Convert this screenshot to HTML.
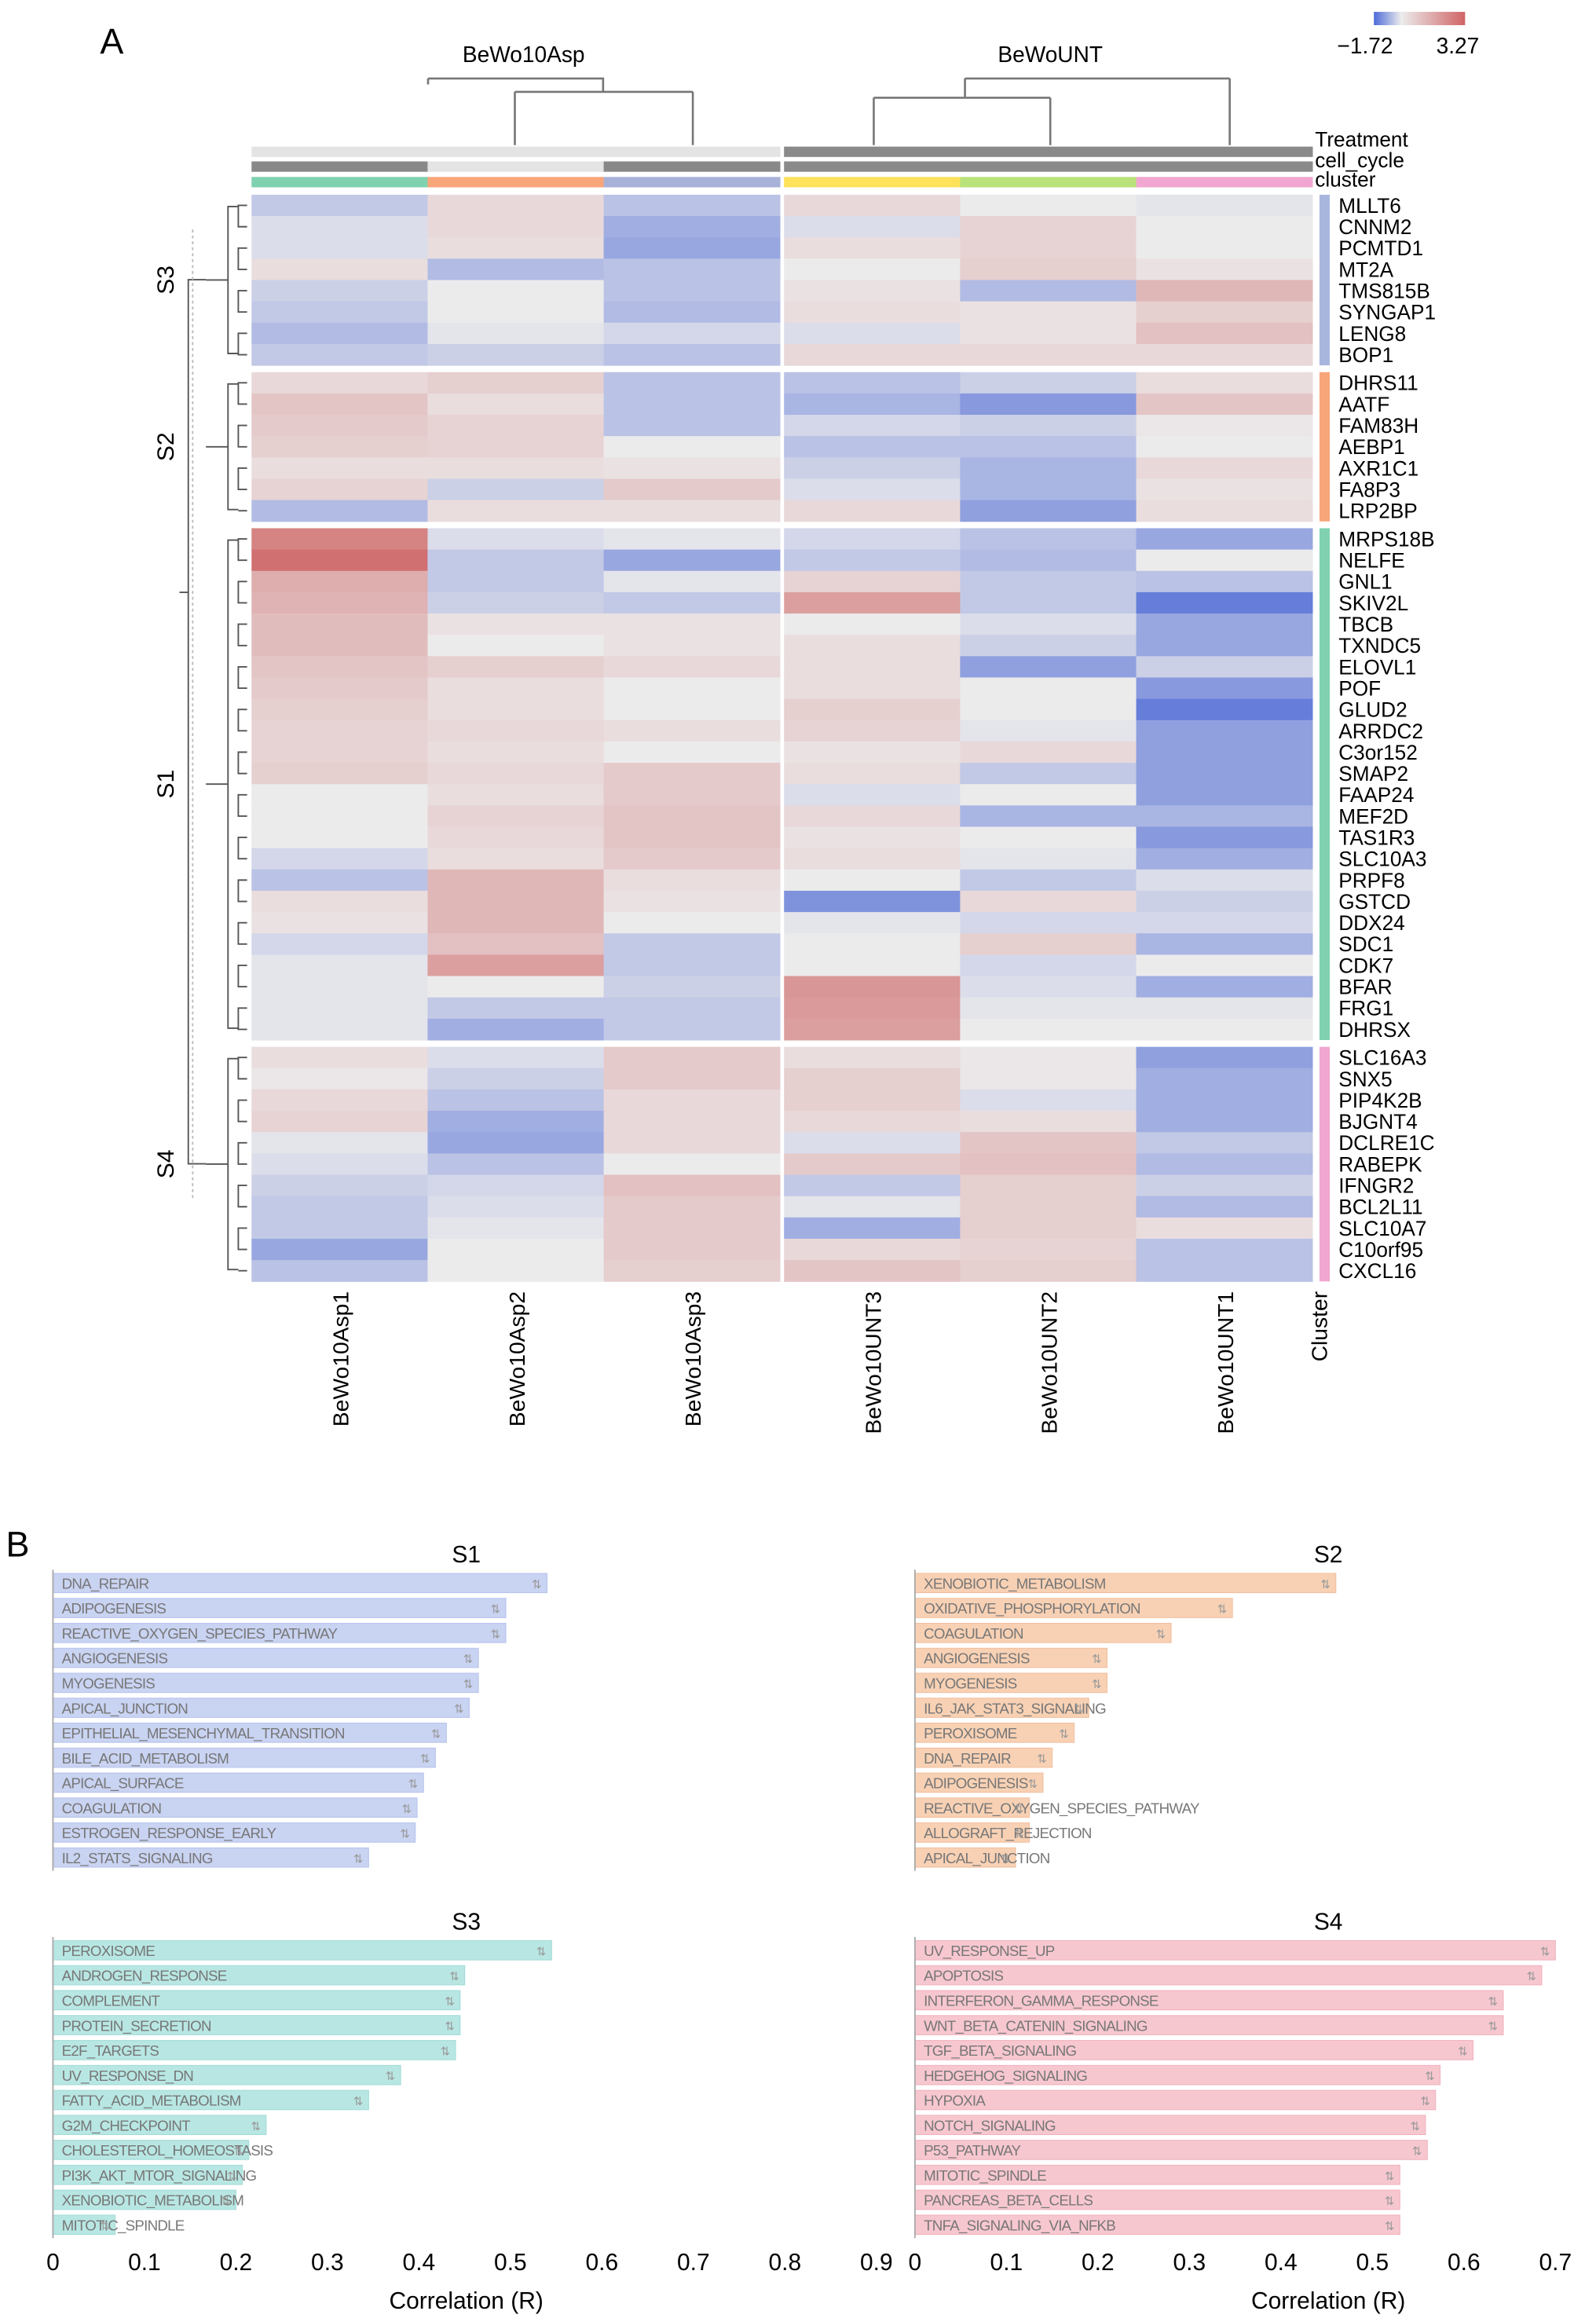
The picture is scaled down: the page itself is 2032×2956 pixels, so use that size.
<!DOCTYPE html>
<html><head><meta charset="utf-8">
<style>
html,body{margin:0;padding:0;background:#fff;}
svg{display:block;font-family:"Liberation Sans",sans-serif;}
</style></head>
<body>
<svg id="fig" xmlns="http://www.w3.org/2000/svg" width="2032" height="2956" viewBox="0 0 1085 1568" preserveAspectRatio="none">
<rect width="1085" height="1568" fill="#fff"/>
<text x="68" y="36" font-size="24">A</text>
<text x="4" y="1051" font-size="24">B</text>
<g id="heat"></g>
<g id="bars"></g>
</svg>
<script>
const NS="http://www.w3.org/2000/svg";
function mk(tag,attrs,parent,txt){const e=document.createElementNS(NS,tag);for(const k in attrs)e.setAttribute(k,attrs[k]);if(txt!==undefined)e.textContent=txt;parent.appendChild(e);return e;}

// ---------- Heatmap data ----------
const samples=["BeWo10Asp1","BeWo10Asp2","BeWo10Asp3","BeWo10UNT3","BeWo10UNT2","BeWo10UNT1"];
const clusterNames=["S3","S2","S1","S4"];
const clusterSizes=[8,7,24,11];
const genes=["MLLT6","CNNM2","PCMTD1","MT2A","TMS815B","SYNGAP1","LENG8","BOP1",
"DHRS11","AATF","FAM83H","AEBP1","AXR1C1","FA8P3","LRP2BP",
"MRPS18B","NELFE","GNL1","SKIV2L","TBCB","TXNDC5","ELOVL1","POF","GLUD2","ARRDC2","C3or152","SMAP2","FAAP24","MEF2D","TAS1R3","SLC10A3","PRPF8","GSTCD","DDX24","SDC1","CDK7","BFAR","FRG1","DHRSX",
"SLC16A3","SNX5","PIP4K2B","BJGNT4","DCLRE1C","RABEPK","IFNGR2","BCL2L11","SLC10A7","C10orf95","CXCL16"];
const values=[
[-0.5,0.4,-0.6,0.4,0,-0.1],[-0.2,0.4,-0.9,-0.2,0.5,0],[-0.2,0.3,-1.0,0.3,0.5,0],[0.3,-0.7,-0.6,0,0.6,0.2],
[-0.4,0,-0.6,0.2,-0.7,1.1],[-0.5,0,-0.7,0.3,0.2,0.6],[-0.7,-0.1,-0.3,-0.2,0.2,0.9],[-0.5,-0.4,-0.6,0.4,0.4,0.4],
[0.4,0.6,-0.6,-0.6,-0.4,0.3],[0.8,0.3,-0.6,-0.8,-1.2,0.8],[0.7,0.5,-0.6,-0.3,-0.4,0.1],[0.6,0.5,0,-0.6,-0.6,0],
[0.3,0.3,0.2,-0.4,-0.8,0.4],[0.5,-0.4,0.7,-0.2,-0.8,0.2],[-0.7,0.3,0.3,0.4,-1.1,0.3],
[2.2,-0.2,-0.1,-0.3,-0.6,-1.0],[2.6,-0.5,-1.0,-0.5,-0.7,0],[1.3,-0.5,-0.1,0.5,-0.5,-0.6],[1.2,-0.4,-0.5,1.6,-0.5,-1.6],
[1.0,0.2,0.2,0,-0.2,-1.0],[1.0,0,0.2,0.3,-0.4,-1.0],[0.8,0.6,0.4,0.3,-1.1,-0.4],[0.7,0.3,0,0.3,0,-1.2],
[0.6,0.3,0,0.6,0,-1.6],[0.5,0.4,0.3,0.5,-0.1,-1.1],[0.5,0.3,0,0.2,0.4,-1.1],[0.6,0.4,0.7,0.3,-0.5,-1.1],
[0,0.3,0.7,-0.2,0,-1.1],[0,0.5,0.8,0.4,-0.8,-0.8],[0,0.4,0.8,0.2,0,-1.2],[-0.3,0.3,0.7,0.3,-0.1,-0.9],
[-0.6,1.1,0.3,0,-0.5,-0.2],[0.3,1.1,0.2,-1.3,0.4,-0.4],[0.2,1.1,0,-0.1,-0.3,-0.3],[-0.3,0.9,-0.5,0,0.6,-0.8],
[-0.1,1.6,-0.5,0,-0.3,0],[-0.1,0,-0.4,1.8,-0.2,-0.9],[-0.1,-0.5,-0.5,1.7,-0.1,-0.1],[-0.1,-0.9,-0.5,1.6,0,0],
[0.3,-0.2,0.7,0.3,0.1,-1.1],[0.1,-0.4,0.7,0.6,0.1,-0.9],[0.4,-0.6,0.4,0.6,-0.2,-0.9],[0.5,-0.9,0.4,0.4,0.3,-0.9],
[-0.1,-1.0,0.4,-0.2,0.8,-0.5],[-0.2,-0.6,0,0.7,0.9,-0.7],[-0.4,-0.3,0.9,-0.5,0.6,-0.4],[-0.5,-0.2,0.7,-0.1,0.6,-0.7],
[-0.5,-0.1,0.7,-0.9,0.6,0.3],[-1.0,0,0.7,0.4,0.5,-0.6],[-0.6,0,0.6,0.8,0.6,-0.6]];
const vmin=-1.72, vmax=3.27;

// ---------- Bar chart data ----------
const s1Labels=["DNA_REPAIR","ADIPOGENESIS","REACTIVE_OXYGEN_SPECIES_PATHWAY","ANGIOGENESIS","MYOGENESIS","APICAL_JUNCTION","EPITHELIAL_MESENCHYMAL_TRANSITION","BILE_ACID_METABOLISM","APICAL_SURFACE","COAGULATION","ESTROGEN_RESPONSE_EARLY","IL2_STATS_SIGNALING"];
const s1Values=[0.54,0.495,0.495,0.465,0.465,0.455,0.43,0.418,0.405,0.398,0.396,0.345];
const s2Labels=["XENOBIOTIC_METABOLISM","OXIDATIVE_PHOSPHORYLATION","COAGULATION","ANGIOGENESIS","MYOGENESIS","IL6_JAK_STAT3_SIGNALING","PEROXISOME","DNA_REPAIR","ADIPOGENESIS","REACTIVE_OXYGEN_SPECIES_PATHWAY","ALLOGRAFT_REJECTION","APICAL_JUNCTION"];
const s2Values=[0.46,0.347,0.28,0.21,0.21,0.19,0.174,0.15,0.14,0.125,0.125,0.11];
const s3Labels=["PEROXISOME","ANDROGEN_RESPONSE","COMPLEMENT","PROTEIN_SECRETION","E2F_TARGETS","UV_RESPONSE_DN","FATTY_ACID_METABOLISM","G2M_CHECKPOINT","CHOLESTEROL_HOMEOSTASIS","PI3K_AKT_MTOR_SIGNALING","XENOBIOTIC_METABOLISM","MITOTIC_SPINDLE"];
const s3Values=[0.545,0.45,0.445,0.445,0.44,0.38,0.345,0.233,0.214,0.207,0.2,0.068];
const s4Labels=["UV_RESPONSE_UP","APOPTOSIS","INTERFERON_GAMMA_RESPONSE","WNT_BETA_CATENIN_SIGNALING","TGF_BETA_SIGNALING","HEDGEHOG_SIGNALING","HYPOXIA","NOTCH_SIGNALING","P53_PATHWAY","MITOTIC_SPINDLE","PANCREAS_BETA_CELLS","TNFA_SIGNALING_VIA_NFKB"];
const s4Values=[0.7,0.685,0.643,0.643,0.61,0.574,0.569,0.558,0.56,0.53,0.53,0.53];
const xTicksLeft=["0","0.1","0.2","0.3","0.4","0.5","0.6","0.7","0.8","0.9"];
const xTicksRight=["0","0.1","0.2","0.3","0.4","0.5","0.6","0.7"];

// ---------- colour scale ----------
function lerp(a,b,t){return Math.round(a+(b-a)*t);}
function color(v){
  const g=[236,235,236], bl=[92,118,216], rd=[206,100,100];
  let c,t;
  if(v<0){t=Math.min(1,v/vmin);c=bl;}else{t=Math.min(1,v/vmax*1.15);c=rd;}
  return `rgb(${lerp(g[0],c[0],t)},${lerp(g[1],c[1],t)},${lerp(g[2],c[2],t)})`;
}

// ---------- Heatmap drawing ----------
const H=document.getElementById('heat');
const colX=i=> i<3 ? 171+i*119.7 : 533+(i-3)*119.7;
const colW=119.7;
const rowH=14.4, gapH=4.6, topY=131.5;
const rowY=[];
{let y=topY;clusterSizes.forEach(n=>{for(let k=0;k<n;k++){rowY.push(y);y+=rowH;}y+=gapH;});}
genes.forEach((g,r)=>{
  samples.forEach((s,c)=>{
    const e=mk('rect',{x:colX(c),y:rowY[r],width:colW+0.4,height:rowH+0.3,fill:color(values[r][c])},H);
    
    
  });
  const t=mk('text',{x:910,y:rowY[r]+rowH/2+5,'font-size':14},H,g);
  
  
});
const sideCols=["#a8b6de","#f9a57a","#7fd1b0","#f0a6d0"];
{let r=0;clusterSizes.forEach((n,i)=>{
  const y0=rowY[r], y1=rowY[r+n-1]+rowH;
  const e=mk('rect',{x:897,y:y0,width:7,height:y1-y0,fill:sideCols[i]},H);
  
  
  const cy=(y0+y1)/2;
  const t=mk('text',{x:0,y:0,'font-size':16,'text-anchor':'middle',transform:`translate(118,${cy}) rotate(-90)`},H,clusterNames[i]);
  
  
  const lines=mk('g',{stroke:'#555','stroke-width':1,fill:'none'},H);
  
  
  for(let k=0;k<n;k+=2){
    const a=rowY[r+k]+rowH/2, b=rowY[Math.min(r+k+1,r+n-1)]+rowH/2;
    mk('path',{d:`M168 ${a}H162V${b}H168`},lines);
  }
  mk('path',{d:`M162 ${y0+8}H155V${y1-8}H162`},lines);
  mk('path',{d:`M155 ${cy}H140`},lines);
  r+=n;
});}
mk('path',{d:`M140 ${(rowY[0]+rowY[7])/2+7}H128V${(rowY[39]+rowY[49])/2+7}H140 M128 400H122`,stroke:'#555',fill:'none','stroke-width':1},H);
mk('path',{d:'M131 155V810',stroke:'#bbb','stroke-dasharray':'2 2',fill:'none'},H);
const ann=[["treatment",99,[ '#e4e4e4','#e4e4e4','#e4e4e4','#8a8a8a','#8a8a8a','#8a8a8a']],
           ["cell-cycle",109,['#888','#e4e4e4','#888','#8a8a8a','#8a8a8a','#8a8a8a']],
           ["cluster",119.5,['#7fd1b0','#f9a57a','#a8b2d8','#fde25a','#b9e27a','#f0a6d0']]];
ann.forEach(a=>{a[2].forEach((c,i)=>{
  const e=mk('rect',{x:colX(i),y:a[1],width:colW+0.4,height:7,fill:c},H);
  
  
});});
[["Treatment",99],["cell_cycle",113],["cluster",126]].forEach(a=>{
  const t=mk('text',{x:894,y:a[1],'font-size':14},H,a[0]);
  
  
});
const cd=mk('path',{d:'M291 53H410V62 M350 62H471 M350 62V98 M471 62V98 M656 53H836 M656 53V66 M594 66H714 M594 66V98 M714 66V98 M836 53V98 M291 53V57',stroke:'#777',fill:'none','stroke-width':1.4},H);


[["BeWo10Asp",356],["BeWoUNT",714]].forEach(a=>{
  const t=mk('text',{x:a[1],y:42,'font-size':15,'text-anchor':'middle'},H,a[0]);
  
  
});
samples.forEach((s,i)=>{
  const cx=colX(i)+colW/2+6;
  const t=mk('text',{x:0,y:0,'font-size':15,'text-anchor':'end',transform:`translate(${cx},872) rotate(-90)`},H,s);
  
  
});
{const t=mk('text',{x:0,y:0,'font-size':15,'text-anchor':'end',transform:`translate(902,872) rotate(-90)`},H,'Cluster');

}
{const d=mk('defs',{},H);const lg=mk('linearGradient',{id:'lg',x1:0,x2:1,y1:0,y2:0},d);
mk('stop',{offset:0,'stop-color':'#4d6ad8'},lg);mk('stop',{offset:0.3,'stop-color':'#ececec'},lg);mk('stop',{offset:1,'stop-color':'#d06466'},lg);
const r=mk('rect',{x:934,y:8,width:62,height:9,fill:'url(#lg)'},H);


const a=mk('text',{x:928,y:36,'font-size':15,'text-anchor':'middle'},H,'\u22121.72');


const b=mk('text',{x:991,y:36,'font-size':15,'text-anchor':'middle'},H,'3.27');

}

// ---------- Bar charts ----------
const B=document.getElementById('bars');
const pxPer=622;
function chart(name,labels,vals,x0,yStart,fill,stroke){
  const g=mk('g',{},B);
  
  
  const pitch=16.85;
  const tt=mk('text',{x:x0+281,y:yStart-14,'font-size':16,'text-anchor':'middle'},g,name);
  
  
  labels.forEach((l,i)=>{
    const cy=yStart+i*pitch, w=vals[i]*pxPer;
    const r=mk('rect',{x:x0,y:cy-6.5,width:w,height:13,fill:fill,stroke:stroke,'stroke-width':0.6},g);
    
    
    const t=mk('text',{x:x0+6,y:cy+3.8,'font-size':10,fill:'#777','letter-spacing':'-0.4'},g,l);
    
    
    const ic=mk('text',{x:x0+w-7,y:cy+3.5,'font-size':8,fill:'#999','text-anchor':'middle'},g,'\u21C5');
    
    
  });
  mk('line',{x1:x0,x2:x0,y1:yStart-9,y2:yStart+11*pitch+9,stroke:'#aaa','stroke-width':1},g);
}
chart('S1',s1Labels,s1Values,36,1069,'#c9d3f2','#b9c5ee');
chart('S2',s2Labels,s2Values,622,1069,'#f8d1b4','#f2c0a0');
chart('S3',s3Labels,s3Values,36,1317,'#b8e7e3','#a4dcd8');
chart('S4',s4Labels,s4Values,622,1317,'#f7c7cf','#f0b4bf');
function axis(ticks,x0,cx){
  ticks.forEach((t,i)=>{
    const e=mk('text',{x:x0+i*0.1*pxPer,y:1533,'font-size':16,'text-anchor':'middle'},B,t);
    
    
  });
  const e=mk('text',{x:cx,y:1559,'font-size':16,'text-anchor':'middle'},B,'Correlation (R)');
  
  
}
axis(xTicksLeft,36,317);
axis(xTicksRight,622,903);
</script>
</body></html>
